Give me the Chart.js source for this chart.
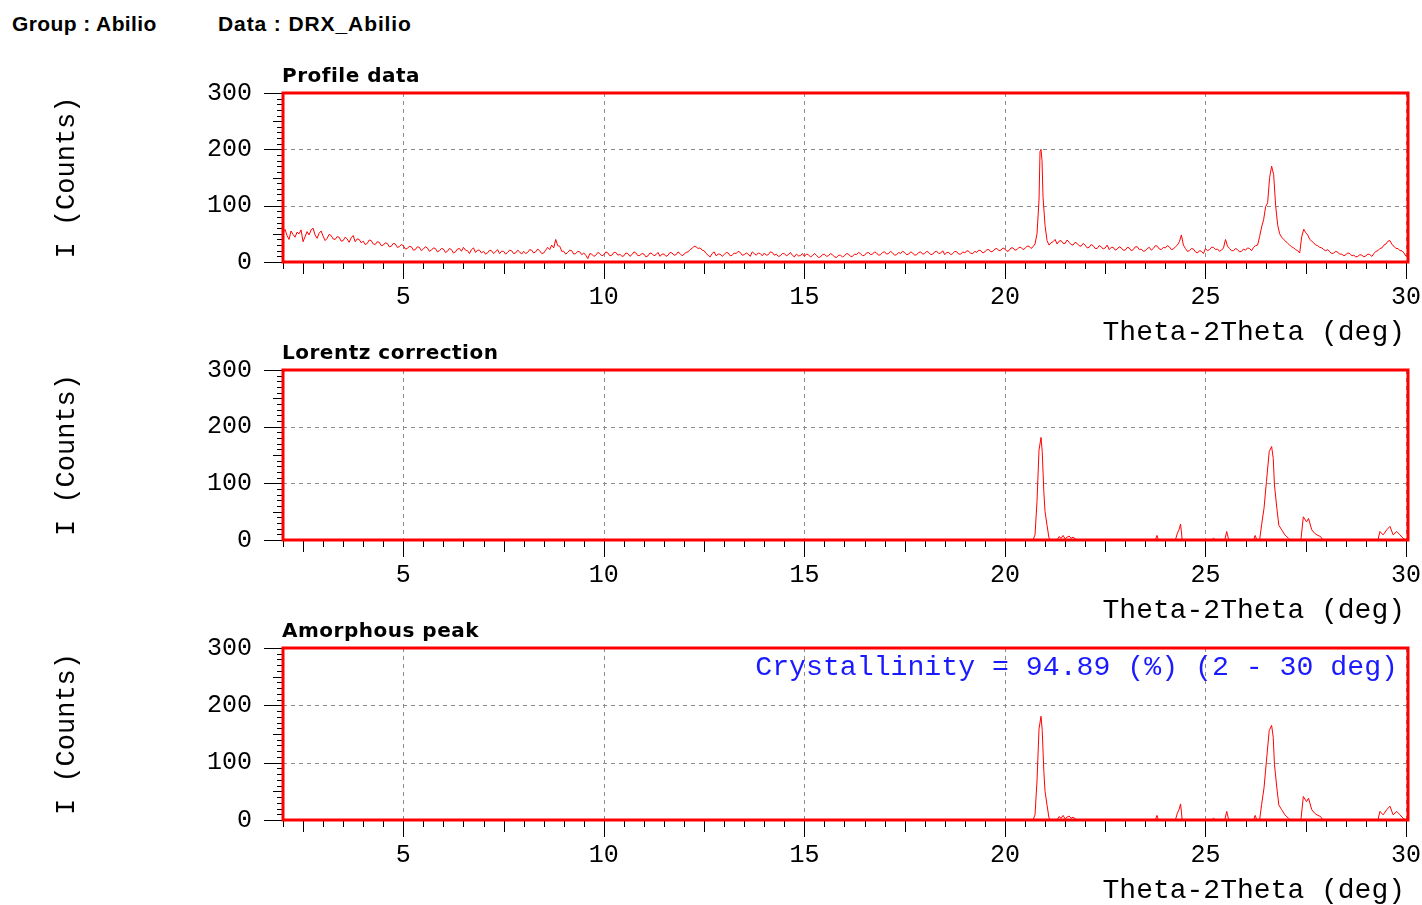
<!DOCTYPE html>
<html>
<head>
<meta charset="utf-8">
<script src="https://cdn.jsdelivr.net/npm/chart.js@4.4.1/dist/chart.umd.min.js"></script>
<style>
  body { margin: 0; background: #fff; width: 1422px; height: 905px; overflow: hidden; position: relative; }
  .hdr { position: absolute; top: 12px; font: bold 21px "Liberation Sans", Arial, sans-serif; color: #000; line-height: 24px; }
  canvas { position: absolute; left: 0; }
</style>
</head>
<body>
<div class="hdr" style="left:12px; letter-spacing:0.4px">Group : Abilio</div>
<div class="hdr" style="left:218px; letter-spacing:0.9px">Data : DRX_Abilio</div>
<canvas id="profileChart" width="1422" height="290" style="top:60px"></canvas>
<canvas id="lorentzChart" width="1422" height="290" style="top:338px"></canvas>
<canvas id="amorphousChart" width="1422" height="290" style="top:615px"></canvas>
<script>
// axis labels
const xTickLabels = [5, 10, 15, 20, 25, 30];
const yTickLabels = [0, 100, 200, 300];

// raw profile (2theta in deg, intensity in counts), one row per degree
const profileAngles = [
  2.00, 2.05, 2.10, 2.15, 2.20, 2.25, 2.30, 2.35, 2.40, 2.45, 2.50, 2.55, 2.60, 2.65, 2.70, 2.75, 2.80, 2.85, 2.90, 2.95,
  3.00, 3.05, 3.10, 3.15, 3.20, 3.25, 3.30, 3.35, 3.40, 3.45, 3.50, 3.55, 3.60, 3.65, 3.70, 3.75, 3.80, 3.85, 3.90, 3.95,
  4.00, 4.05, 4.10, 4.15, 4.20, 4.25, 4.30, 4.35, 4.40, 4.45, 4.50, 4.55, 4.60, 4.65, 4.70, 4.75, 4.80, 4.85, 4.90, 4.95,
  5.00, 5.05, 5.10, 5.15, 5.20, 5.25, 5.30, 5.35, 5.40, 5.45, 5.50, 5.55, 5.60, 5.65, 5.70, 5.75, 5.80, 5.85, 5.90, 5.95,
  6.00, 6.05, 6.10, 6.15, 6.20, 6.25, 6.30, 6.35, 6.40, 6.45, 6.50, 6.55, 6.60, 6.65, 6.70, 6.75, 6.80, 6.85, 6.90, 6.95,
  7.00, 7.05, 7.10, 7.15, 7.20, 7.25, 7.30, 7.35, 7.40, 7.45, 7.50, 7.55, 7.60, 7.65, 7.70, 7.75, 7.80, 7.85, 7.90, 7.95,
  8.00, 8.05, 8.10, 8.15, 8.20, 8.25, 8.30, 8.35, 8.40, 8.45, 8.50, 8.55, 8.60, 8.65, 8.70, 8.75, 8.80, 8.85, 8.90, 8.95,
  9.00, 9.05, 9.10, 9.15, 9.20, 9.25, 9.30, 9.35, 9.40, 9.45, 9.50, 9.55, 9.60, 9.65, 9.70, 9.75, 9.80, 9.85, 9.90, 9.95,
  10.00, 10.05, 10.10, 10.15, 10.20, 10.25, 10.30, 10.35, 10.40, 10.45, 10.50, 10.55, 10.60, 10.65, 10.70, 10.75, 10.80, 10.85, 10.90, 10.95,
  11.00, 11.05, 11.10, 11.15, 11.20, 11.25, 11.30, 11.35, 11.40, 11.45, 11.50, 11.55, 11.60, 11.65, 11.70, 11.75, 11.80, 11.85, 11.90, 11.95,
  12.00, 12.05, 12.10, 12.15, 12.20, 12.25, 12.30, 12.35, 12.40, 12.45, 12.50, 12.55, 12.60, 12.65, 12.70, 12.75, 12.80, 12.85, 12.90, 12.95,
  13.00, 13.05, 13.10, 13.15, 13.20, 13.25, 13.30, 13.35, 13.40, 13.45, 13.50, 13.55, 13.60, 13.65, 13.70, 13.75, 13.80, 13.85, 13.90, 13.95,
  14.00, 14.05, 14.10, 14.15, 14.20, 14.25, 14.30, 14.35, 14.40, 14.45, 14.50, 14.55, 14.60, 14.65, 14.70, 14.75, 14.80, 14.85, 14.90, 14.95,
  15.00, 15.05, 15.10, 15.15, 15.20, 15.25, 15.30, 15.35, 15.40, 15.45, 15.50, 15.55, 15.60, 15.65, 15.70, 15.75, 15.80, 15.85, 15.90, 15.95,
  16.00, 16.05, 16.10, 16.15, 16.20, 16.25, 16.30, 16.35, 16.40, 16.45, 16.50, 16.55, 16.60, 16.65, 16.70, 16.75, 16.80, 16.85, 16.90, 16.95,
  17.00, 17.05, 17.10, 17.15, 17.20, 17.25, 17.30, 17.35, 17.40, 17.45, 17.50, 17.55, 17.60, 17.65, 17.70, 17.75, 17.80, 17.85, 17.90, 17.95,
  18.00, 18.05, 18.10, 18.15, 18.20, 18.25, 18.30, 18.35, 18.40, 18.45, 18.50, 18.55, 18.60, 18.65, 18.70, 18.75, 18.80, 18.85, 18.90, 18.95,
  19.00, 19.05, 19.10, 19.15, 19.20, 19.25, 19.30, 19.35, 19.40, 19.45, 19.50, 19.55, 19.60, 19.65, 19.70, 19.75, 19.80, 19.85, 19.90, 19.95,
  20.00, 20.05, 20.10, 20.15, 20.20, 20.25, 20.30, 20.35, 20.40, 20.45, 20.50, 20.55, 20.60, 20.65, 20.70, 20.75, 20.80, 20.85, 20.875, 20.90, 20.925, 20.95,
  21.00, 21.05, 21.10, 21.15, 21.20, 21.25, 21.30, 21.35, 21.40, 21.45, 21.50, 21.55, 21.60, 21.65, 21.70, 21.75, 21.80, 21.85, 21.90, 21.95,
  22.00, 22.05, 22.10, 22.15, 22.20, 22.25, 22.30, 22.35, 22.40, 22.45, 22.50, 22.55, 22.60, 22.65, 22.70, 22.75, 22.80, 22.85, 22.90, 22.95,
  23.00, 23.05, 23.10, 23.15, 23.20, 23.25, 23.30, 23.35, 23.40, 23.45, 23.50, 23.55, 23.60, 23.65, 23.70, 23.75, 23.80, 23.85, 23.90, 23.95,
  24.00, 24.05, 24.10, 24.15, 24.20, 24.25, 24.30, 24.35, 24.40, 24.45, 24.50, 24.55, 24.60, 24.65, 24.70, 24.75, 24.80, 24.85, 24.90, 24.95,
  25.00, 25.05, 25.10, 25.15, 25.20, 25.25, 25.30, 25.35, 25.40, 25.45, 25.50, 25.55, 25.60, 25.65, 25.70, 25.75, 25.80, 25.85, 25.90, 25.95,
  26.00, 26.05, 26.10, 26.15, 26.20, 26.25, 26.30, 26.35, 26.40, 26.45, 26.50, 26.55, 26.60, 26.65, 26.70, 26.75, 26.80, 26.85, 26.90, 26.95,
  27.00, 27.05, 27.10, 27.15, 27.20, 27.25, 27.30, 27.35, 27.40, 27.45, 27.50, 27.55, 27.60, 27.65, 27.70, 27.75, 27.80, 27.85, 27.90, 27.95,
  28.00, 28.05, 28.10, 28.15, 28.20, 28.25, 28.30, 28.35, 28.40, 28.45, 28.50, 28.55, 28.60, 28.65, 28.70, 28.75, 28.80, 28.85, 28.90, 28.95,
  29.00, 29.05, 29.10, 29.15, 29.20, 29.25, 29.30, 29.35, 29.40, 29.45, 29.50, 29.55, 29.60, 29.65, 29.70, 29.75, 29.80, 29.85, 29.90, 29.95,
  30.00
];
const profileCounts = [
  52, 58, 47, 40, 55, 49, 44, 53, 50, 57, 36, 45, 54, 48, 57, 60, 48, 42, 51, 55,
  46, 38, 42, 49, 47, 41, 40, 45, 44, 37, 38, 44, 41, 35, 43, 47, 36, 41, 40, 34,
  37, 31, 33, 39, 38, 32, 31, 36, 35, 29, 30, 34, 33, 27, 28, 33, 32, 26, 27, 31,
  29, 23, 24, 28, 27, 21, 22, 27, 26, 20, 23, 27, 25, 19, 21, 25, 24, 18, 20, 24,
  23, 17, 19, 24, 22, 16, 18, 23, 24, 19, 26, 21, 20, 15, 22, 25, 17, 21, 21, 16,
  19, 14, 16, 21, 20, 15, 18, 22, 15, 19, 19, 14, 17, 21, 20, 15, 16, 21, 18, 14,
  19, 15, 17, 22, 21, 16, 18, 23, 20, 15, 16, 21, 26, 22, 30, 25, 40, 29, 28, 19,
  19, 14, 17, 21, 20, 14, 15, 19, 18, 13, 16, 12, 6, 15, 14, 10, 12, 17, 15, 11,
  13, 18, 16, 11, 12, 17, 17, 12, 14, 10, 11, 16, 15, 10, 13, 18, 16, 11, 12, 15,
  14, 9, 11, 16, 15, 11, 13, 17, 10, 14, 14, 10, 12, 17, 16, 12, 13, 18, 15, 11,
  14, 17, 18, 22, 24, 28, 27, 24, 25, 21, 20, 15, 12, 9, 15, 18, 11, 14, 14, 10,
  13, 17, 16, 11, 12, 16, 15, 19, 17, 12, 13, 16, 14, 10, 18, 15, 12, 16, 15, 11,
  16, 12, 13, 18, 17, 12, 14, 10, 11, 15, 15, 11, 13, 17, 12, 9, 14, 11, 11, 15,
  10, 14, 13, 9, 11, 15, 12, 8, 9, 13, 14, 10, 11, 15, 13, 9, 8, 12, 12, 9,
  11, 15, 14, 10, 10, 14, 13, 17, 15, 11, 12, 16, 17, 13, 14, 18, 16, 12, 13, 17,
  18, 14, 15, 19, 16, 12, 13, 17, 15, 19, 17, 13, 14, 18, 16, 12, 13, 17, 18, 14,
  15, 19, 17, 13, 14, 18, 19, 15, 16, 20, 13, 17, 17, 13, 15, 19, 18, 14, 14, 18,
  16, 20, 19, 15, 15, 19, 17, 21, 20, 16, 18, 22, 22, 18, 19, 23, 24, 20, 21, 25,
  23, 19, 20, 25, 25, 21, 22, 26, 26, 22, 24, 28, 28, 24, 27, 32, 50, 110, 196, 200, 180, 115,
  65, 38, 30, 34, 36, 40, 32, 37, 38, 33, 33, 39, 35, 31, 30, 35, 33, 29, 28, 33,
  30, 25, 26, 31, 29, 24, 24, 29, 27, 23, 25, 30, 22, 26, 26, 21, 23, 27, 25, 21,
  21, 26, 25, 20, 22, 27, 27, 22, 23, 19, 20, 24, 26, 21, 24, 29, 28, 23, 22, 26,
  25, 29, 27, 22, 23, 27, 30, 36, 48, 30, 24, 19, 20, 24, 23, 18, 16, 20, 19, 15,
  24, 20, 22, 26, 26, 22, 23, 19, 21, 25, 40, 28, 24, 20, 20, 24, 22, 18, 19, 23,
  21, 25, 24, 20, 26, 29, 30, 45, 62, 75, 98, 105, 150, 170, 155, 100, 66, 50, 44, 40,
  37, 33, 30, 27, 25, 22, 20, 16, 45, 58, 52, 48, 40, 37, 34, 30, 29, 26, 25, 22,
  20, 22, 18, 15, 16, 19, 17, 14, 14, 11, 13, 16, 15, 11, 12, 9, 10, 13, 12, 9,
  11, 14, 13, 10, 15, 19, 20, 24, 25, 30, 32, 37, 38, 31, 28, 24, 24, 20, 20, 16,
  10
];

// after Lorentz correction (also shown for the amorphous-peak step)
const lorentzAngles = [
  2.0, 20.7, 20.75, 20.8, 20.85, 20.9, 20.93, 20.97, 21.0, 21.05, 21.1, 21.15,
  21.3, 21.35, 21.4, 21.45, 21.5, 21.55, 21.6, 21.65, 21.7, 21.75, 21.8,
  23.75, 23.79, 23.83, 24.25, 24.3, 24.34, 24.38, 24.42,
  25.15, 25.2, 25.25, 25.48, 25.53, 25.58,
  26.2, 26.24, 26.28, 26.35, 26.4, 26.46, 26.52, 26.59, 26.65, 26.69, 26.72, 26.78, 26.83, 26.9, 26.98, 27.07, 27.12,
  27.38, 27.44, 27.52, 27.57, 27.65, 27.72, 27.78, 27.87, 27.93,
  29.3, 29.35, 29.43, 29.52, 29.6, 29.68, 29.77, 29.85, 29.93, 30.0
];
const lorentzCounts = [
  0, 0, 9, 68, 159, 181, 156, 85, 50, 26, 3, 0,
  0, 6, 3, 8, 2, 5, 7, 3, 5, 2, 0,
  0, 8, 0, 0, 12, 18, 28, 0,
  0, 3, 0, 0, 15, 0,
  0, 8, 0, 0, 27, 56, 103, 156, 165, 144, 97, 56, 26, 18, 9, 3, 0,
  0, 41, 32, 38, 18, 12, 9, 6, 0,
  0, 15, 9, 18, 24, 9, 15, 9, 3, 0
];

const monoFont = '"Liberation Mono", "Courier New", monospace';

const xrdFrame = {
  id: 'xrdFrame',
  beforeDatasetsDraw(chart) {
    const { ctx, chartArea: a, scales: { x, y } } = chart;
    ctx.save();
    ctx.strokeStyle = '#8c8c8c';
    ctx.lineWidth = 1;
    ctx.setLineDash([4, 4]);
    xTickLabels.forEach(v => {
      const px = Math.round(x.getPixelForValue(v)) + 0.5;
      ctx.beginPath(); ctx.moveTo(px, a.top); ctx.lineTo(px, a.bottom); ctx.stroke();
    });
    yTickLabels.forEach(v => {
      const py = Math.round(y.getPixelForValue(v)) + 0.5;
      ctx.beginPath(); ctx.moveTo(a.left, py); ctx.lineTo(a.right, py); ctx.stroke();
    });
    ctx.restore();
  },
  afterDatasetsDraw(chart, args, opts) {
    const { ctx, chartArea: a, scales: { x, y } } = chart;
    ctx.save();
    ctx.strokeStyle = '#000';
    ctx.lineWidth = 1;
    // y ticks every 10 counts
    for (let v = 0; v <= 300; v += 10) {
      const len = v % 100 === 0 ? 19 : (v % 50 === 0 ? 10 : 6);
      const py = Math.round(y.getPixelForValue(v)) + 0.5;
      ctx.beginPath(); ctx.moveTo(a.left - len, py); ctx.lineTo(a.left, py); ctx.stroke();
    }
    // x ticks every 0.5 deg
    for (let k = 4; k <= 60; k++) {
      const len = k % 10 === 0 ? 17 : (k % 5 === 0 ? 12 : 7);
      const px = Math.round(x.getPixelForValue(k / 2)) + 0.5;
      ctx.beginPath(); ctx.moveTo(px, a.bottom); ctx.lineTo(px, a.bottom + len); ctx.stroke();
    }
    // red frame
    ctx.strokeStyle = '#ff0000';
    ctx.lineWidth = 3;
    ctx.strokeRect(a.left, a.top, a.right - a.left, a.bottom - a.top);

    ctx.fillStyle = '#000';
    ctx.font = '25px ' + monoFont;
    ctx.textAlign = 'right';
    ctx.textBaseline = 'middle';
    yTickLabels.forEach(v => ctx.fillText(String(v), a.left - 31, y.getPixelForValue(v)));
    ctx.textAlign = 'center';
    xTickLabels.forEach(v => ctx.fillText(String(v), x.getPixelForValue(v), a.bottom + 35));

    ctx.font = '28px ' + monoFont;
    ctx.textAlign = 'right';
    ctx.fillText('Theta-2Theta (deg)', a.right - 3, a.bottom + 71);

    ctx.save();
    ctx.translate(67, (a.top + a.bottom) / 2);
    ctx.rotate(-Math.PI / 2);
    ctx.textAlign = 'center';
    ctx.font = '27px ' + monoFont;
    ctx.fillText('I (Counts)', 0, 0);
    ctx.restore();

    ctx.font = 'bold 20px "DejaVu Sans", Verdana, sans-serif';
    ctx.letterSpacing = '0.5px';
    ctx.textAlign = 'left';
    ctx.fillText(opts.title, a.left - 1, a.top - 16);
    ctx.letterSpacing = '0px';

    if (opts.note) {
      ctx.fillStyle = '#1a1aff';
      ctx.font = '28.2px ' + monoFont;
      ctx.textAlign = 'right';
      ctx.fillText(opts.note, a.right - 10, a.top + 20);
    }
    ctx.restore();
  }
};

function makePanel(id, angles, counts, title, note, pad) {
  const points = angles.map((a, i) => ({ x: a, y: counts[i] }));
  return new Chart(document.getElementById(id), {
    type: 'line',
    data: {
      datasets: [{
        data: points,
        borderColor: '#ff0000',
        borderWidth: 1,
        pointRadius: 0,
        tension: 0,
        fill: false
      }]
    },
    options: {
      responsive: false,
      animation: false,
      layout: { padding: pad },
      plugins: {
        legend: { display: false },
        tooltip: { enabled: false },
        xrdFrame: { title: title, note: note }
      },
      scales: {
        x: { type: 'linear', min: 2, max: 30.05, display: false },
        y: { min: 0, max: 300, display: false }
      }
    },
    plugins: [xrdFrame]
  });
}

makePanel('profileChart', profileAngles, profileCounts, 'Profile data', '',
  { left: 283, right: 14, top: 33, bottom: 88 });
makePanel('lorentzChart', lorentzAngles, lorentzCounts, 'Lorentz correction', '',
  { left: 283, right: 14, top: 32, bottom: 88 });
makePanel('amorphousChart', lorentzAngles, lorentzCounts, 'Amorphous peak',
  'Crystallinity = 94.89 (%) (2 - 30 deg)', { left: 283, right: 14, top: 33, bottom: 85 });
</script>
</body>
</html>
